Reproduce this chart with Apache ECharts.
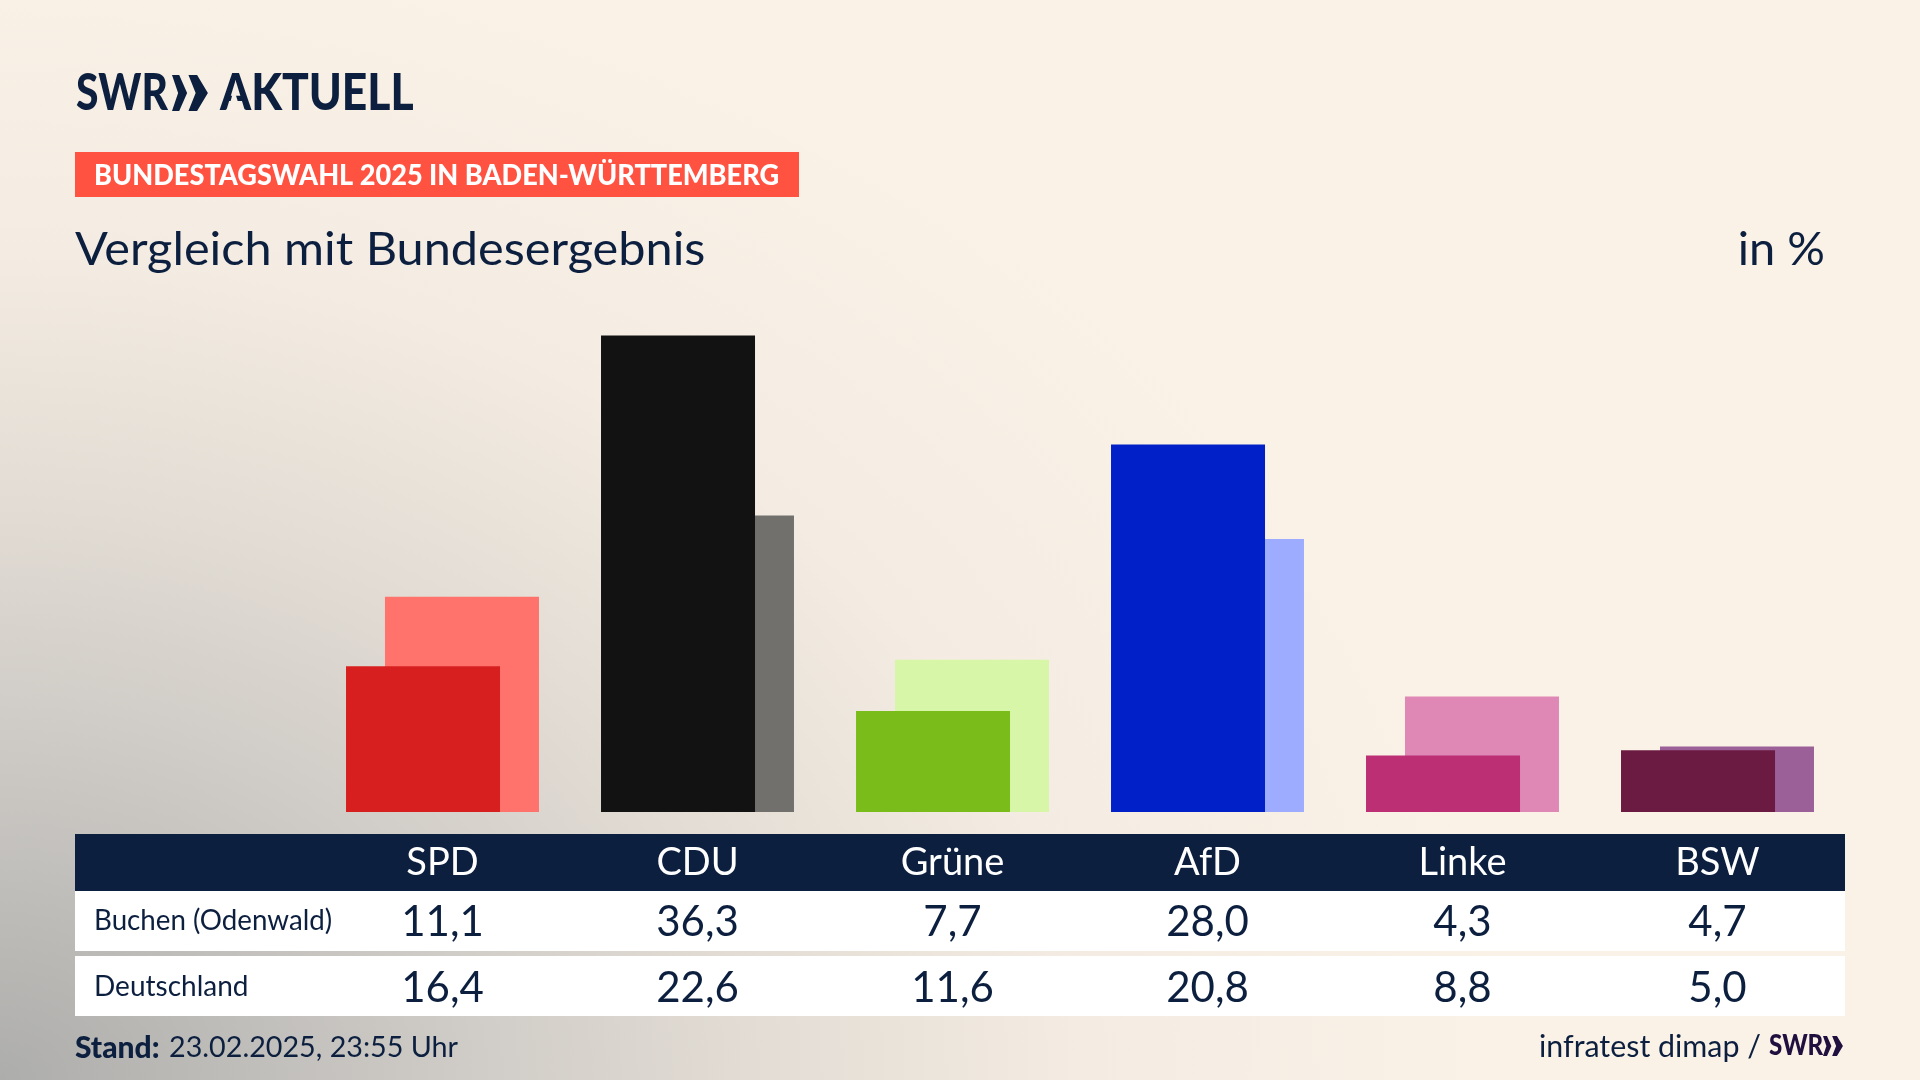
<!DOCTYPE html>
<html>
<head>
<meta charset="utf-8">
<style>
html, body { margin: 0; padding: 0; width: 1920px; height: 1080px; overflow: hidden; }
body { background: radial-gradient(ellipse 1500px 1150px at 0 100%, #adadab 0, #c9c6c2 25%, #e2dcd4 50%, #f4ece2 72%, #faf2e7 100%) #faf2e7; }
#main { width: 1920px; height: 1080px; }
</style>
<script src="https://cdn.jsdelivr.net/npm/echarts@6/dist/echarts.min.js"></script>
</head>
<body>
<div id="main"></div>
<script>
var parties = ["SPD", "CDU", "Grüne", "AfD", "Linke", "BSW"];
var buchen = [11.1, 36.3, 7.7, 28.0, 4.3, 4.7];
var deutschland = [16.4, 22.6, 11.6, 20.8, 8.8, 5.0];
var buchenColors = ["#d81f1f", "#121212", "#7abd1a", "#0220c8", "#bc2f74", "#6b1a41"];
var deutschlandColors = ["#ff736c", "#72706d", "#d7f6a8", "#9eacff", "#df88b6", "#9a6097"];

var navy = "#0c1f3f";
var font = "Lato";

function comma(v) {
    return v.toFixed(1).replace(".", ",");
}

function barData(values, colors) {
    return values.map(function (v, i) {
        return { value: v, itemStyle: { color: colors[i] } };
    });
}

function tableAxis(data, offset, size, color) {
    return {
        type: "category",
        position: "bottom",
        offset: offset,
        data: data,
        axisLine: { show: false },
        axisTick: { show: false },
        axisLabel: {
            margin: 0,
            interval: 0,
            verticalAlign: "middle",
            fontFamily: font,
            fontSize: size,
            color: color
        }
    };
}

function rect(x, y, w, h, fill) {
    return { type: "rect", z: 0, shape: { x: x, y: y, width: w, height: h }, style: { fill: fill } };
}

function label(x, y, text, size, opts) {
    opts = opts || {};
    return {
        type: "text",
        z: 5,
        x: x,
        y: y,
        scaleX: opts.scaleX || 1,
        style: {
            text: text,
            fill: opts.color || navy,
            font: (opts.weight || "400") + " " + size + 'px "' + font + '"',
            textAlign: opts.align || "left",
            textVerticalAlign: "middle"
        }
    };
}

// the two arrows of the SWR logo, the second one is a bit larger
function chevrons(x, y, h, fill) {
    function arrow(x0, w, notch, flat) {
        return {
            type: "polygon",
            z: 5,
            shape: { points: [[x0, y], [x0 + flat, y], [x0 + w, y + h / 2], [x0 + flat, y + h], [x0, y + h], [x0 + notch, y + h / 2]] },
            style: { fill: fill }
        };
    }
    return [
        arrow(x, h * 0.42, h * 0.17, h * 0.2),
        arrow(x + h * 0.457, h * 0.54, h * 0.2, h * 0.24)
    ];
}

var chart = echarts.init(document.getElementById("main"), null, { renderer: "canvas" });
chart.setOption({
    animation: false,
    backgroundColor: "transparent",
    grid: { left: 315, width: 1530, top: 287, height: 525 },
    xAxis: [
        tableAxis(parties, 51, 38, "#ffffff"),
        tableAxis(buchen.map(comma), 110, 42, navy),
        tableAxis(deutschland.map(comma), 176, 42, navy)
    ],
    yAxis: { type: "value", min: 0, max: 40, show: false },
    series: [
        { name: "Buchen (Odenwald)", type: "bar", z: 3, barWidth: 154, barGap: "-74.7%", data: barData(buchen, buchenColors) },
        { name: "Deutschland", type: "bar", z: 2, barWidth: 154, data: barData(deutschland, deutschlandColors) }
    ],
    graphic: {
        elements: [
            rect(75, 834, 1770, 57, navy),
            rect(75, 891, 1770, 60, "#ffffff"),
            rect(75, 956, 1770, 60, "#ffffff"),
            rect(75, 152, 724, 45, "#ff5240"),
            label(76, 94, "SWR", 51, { weight: "900", scaleX: 0.8 }),
            label(220, 94, "AKTUELL", 51, { weight: "900", scaleX: 0.87 }),
            // the logo's A has no crossbar
            { type: "polygon", z: 6, shape: { points: [[234, 89], [227.5, 112], [241, 112]] }, style: { fill: "#f8f0e6" } },
            label(94, 176, "BUNDESTAGSWAHL 2025 IN BADEN-WÜRTTEMBERG", 28, { weight: "900", scaleX: 0.969, color: "#ffffff" }),
            label(75, 250, "Vergleich mit Bundesergebnis", 47, { scaleX: 1.035 }),
            label(1825, 250, "in %", 47, { align: "right" }),
            label(94, 921, "Buchen (Odenwald)", 28, { scaleX: 0.99 }),
            label(94, 987, "Deutschland", 28),
            label(75, 1048, "Stand:", 30, { weight: "900" }),
            label(169, 1048, "23.02.2025, 23:55 Uhr", 29, { scaleX: 0.99 }),
            label(1539, 1047, "infratest dimap /", 31, { scaleX: 0.98 }),
            label(1769, 1046, "SWR", 28, { weight: "900", scaleX: 0.86, color: "#20103f" })
        ].concat(chevrons(172, 75, 36, navy), chevrons(1823, 1036, 20, "#20103f"))
    }
});
</script>
</body>
</html>
